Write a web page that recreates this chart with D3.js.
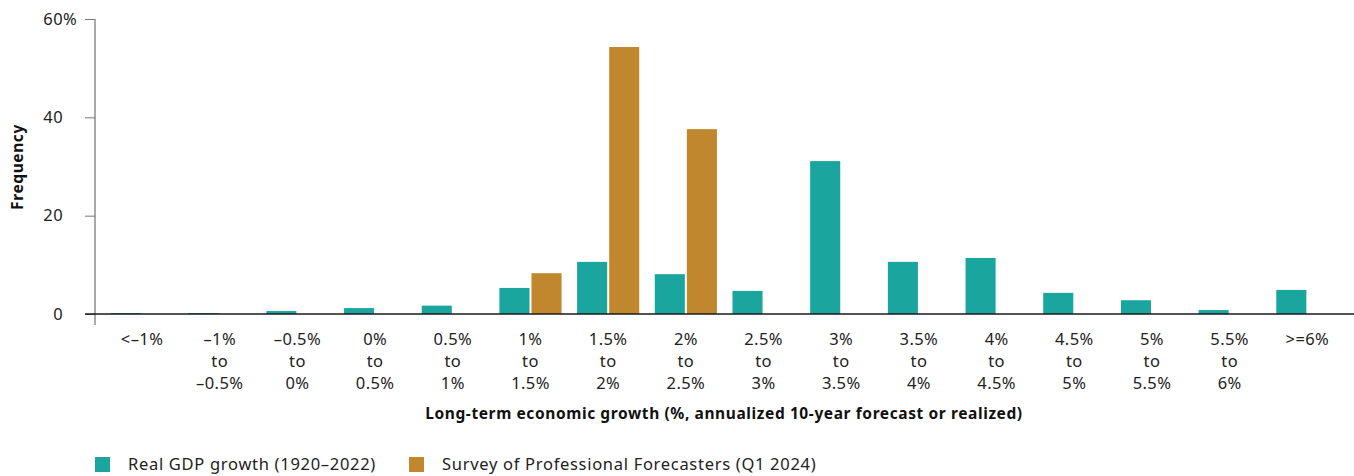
<!DOCTYPE html>
<html>
<head>
<meta charset="utf-8">
<script src="https://cdn.jsdelivr.net/npm/d3@7"></script>
<style>
    body { margin: 0; background: white; }
    svg { display: block; font-family: "Noto Sans", sans-serif; }
    .tick-label { font-size: 16.5px; fill: #222; letter-spacing: 0.4px; }
    .title { font-size: 15.5px; font-weight: bold; fill: #111; letter-spacing: 0.6px; }
    .legend-text { font-size: 16.5px; fill: #222; letter-spacing: 0.7px; }
</style>
</head>
<body>
<svg width="1354" height="476"></svg>
<script>
'use strict';

/* global d3 */

var categories = [
    ["<–1%"], ["–1%", "to", "–0.5%"], ["–0.5%", "to", "0%"], ["0%", "to", "0.5%"],
    ["0.5%", "to", "1%"], ["1%", "to", "1.5%"], ["1.5%", "to", "2%"], ["2%", "to", "2.5%"],
    ["2.5%", "to", "3%"], ["3%", "to", "3.5%"], ["3.5%", "to", "4%"], ["4%", "to", "4.5%"],
    ["4.5%", "to", "5%"], ["5%", "to", "5.5%"], ["5.5%", "to", "6%"], [">=6%"]
];
var gdpValues = [0.2, 0.2, 0.6, 1.2, 1.7, 5.3, 10.6, 8.1, 4.7, 31.1, 10.6, 11.4, 4.3, 2.8, 0.8, 4.9];
var spfValues = [0, 0, 0, 0, 0, 8.3, 54.3, 37.6, 0, 0, 0, 0, 0, 0, 0, 0];
var seriesNames = ["Real GDP growth (1920–2022)", "Survey of Professional Forecasters (Q1 2024)"];
var seriesColors = ["#1aa59f", "#c0872f"];
var yTicks = [0, 20, 40, 60];

var svg = d3.select("svg");

var x0 = d3.scaleBand()
    .domain(d3.range(categories.length))
    .range([103.2, 1346.2])
    .paddingInner(0.2)
    .paddingOuter(0.1);

var x1 = d3.scaleBand()
    .domain([0, 1])
    .range([0, x0.bandwidth()])
    .paddingInner(0.0625);

var y = d3.scaleLinear()
    .domain([0, 60])
    .range([314, 19]);

// y axis
var yAxisG = svg.append("g")
    .attr("transform", "translate(95,0)")
    .call(d3.axisLeft(y).tickValues(yTicks).tickSize(10).tickFormat(""));
yAxisG.select(".domain")
    .attr("d", "M0," + y(60) + "V325")
    .attr("stroke", "#555");
yAxisG.selectAll(".tick line").attr("stroke", "#777");

svg.selectAll("text.ynum")
    .data(yTicks)
    .enter()
    .append("text")
    .attr("class", "tick-label ynum")
    .attr("x", 63)
    .attr("y", function(d) { return y(d); })
    .attr("dy", "0.35em")
    .attr("text-anchor", "end")
    .text(function(d) { return d; });

svg.append("text")
    .attr("class", "tick-label")
    .attr("x", 63)
    .attr("y", y(60))
    .attr("dy", "0.35em")
    .text("%");

// bars
var groups = svg.selectAll("g.cat")
    .data(categories.map(function(c, i) { return [gdpValues[i], spfValues[i]]; }))
    .enter()
    .append("g")
    .attr("class", "cat")
    .attr("transform", function(d, i) { return "translate(" + x0(i) + ",0)"; });

groups.selectAll("rect")
    .data(function(d) { return d.map(function(v, s) { return {s: s, v: v}; }).filter(function(e) { return e.v > 0; }); })
    .enter()
    .append("rect")
    .attr("x", function(d) { return x1(d.s); })
    .attr("width", x1.bandwidth())
    .attr("y", function(d) { return y(d.v); })
    .attr("height", function(d) { return y(0) - y(d.v); })
    .attr("fill", function(d) { return seriesColors[d.s]; });

// x baseline
svg.append("line")
    .attr("x1", 85)
    .attr("x2", 1354)
    .attr("y1", y(0))
    .attr("y2", y(0))
    .attr("stroke", "#1a1a1a")
    .attr("stroke-width", 1.5);

// category labels
var catLabels = svg.selectAll("text.cat-label")
    .data(categories)
    .enter()
    .append("text")
    .attr("class", "tick-label cat-label")
    .attr("text-anchor", "middle")
    .attr("transform", function(d, i) { return "translate(" + (x0(i) + x0.bandwidth() / 2) + ",339)"; });

catLabels.selectAll("tspan")
    .data(function(d) { return d; })
    .enter()
    .append("tspan")
    .attr("x", 0)
    .attr("y", function(d, i) { return i * 22; })
    .attr("dy", "0.35em")
    .text(function(d) { return d; });

// titles
svg.append("text")
    .attr("class", "title")
    .attr("x", 724)
    .attr("y", 414)
    .attr("dy", "0.35em")
    .attr("text-anchor", "middle")
    .text("Long-term economic growth (%, annualized 10-year forecast or realized)");

svg.append("text")
    .attr("class", "title")
    .attr("transform", "translate(18,167) rotate(-90)")
    .attr("dy", "0.35em")
    .attr("text-anchor", "middle")
    .text("Frequency");

// legend
var legendX = [95, 409];
var legend = svg.selectAll("g.legend")
    .data(seriesNames)
    .enter()
    .append("g")
    .attr("class", "legend")
    .attr("transform", function(d, i) { return "translate(" + legendX[i] + ",457)"; });

legend.append("rect")
    .attr("width", 15)
    .attr("height", 15)
    .attr("fill", function(d, i) { return seriesColors[i]; });

legend.append("text")
    .attr("class", "legend-text")
    .attr("x", 33)
    .attr("y", 7.5)
    .attr("dy", "0.35em")
    .text(function(d) { return d; });
</script>
</body>
</html>
